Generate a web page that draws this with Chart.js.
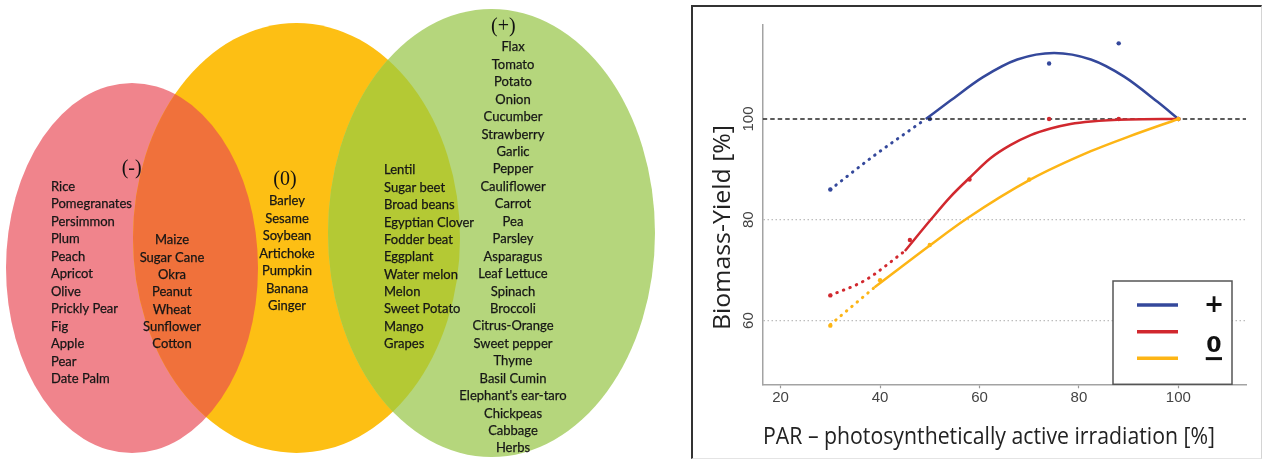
<!DOCTYPE html>
<html>
<head>
<meta charset="utf-8">
<title>Crops and shading</title>
<script src="https://cdn.jsdelivr.net/npm/chart.js@4.4.1/dist/chart.umd.min.js"></script>
<style>
  html, body { margin: 0; padding: 0; background: #fff; }
  body { width: 1264px; height: 460px; position: relative; overflow: hidden; }
  #venn-box { position: absolute; left: 0; top: 0; width: 690px; height: 460px; }
  #yield-box { position: absolute; left: 691px; top: 5px; width: 568px; height: 451px;
    border-left: 2px solid #333; border-top: 2px solid #333;
    border-right: 1px solid #d4d4d4; border-bottom: 1px solid #e4e4e4; }
</style>
</head>
<body>
<div id="venn-box"><canvas id="venn"></canvas></div>
<div id="yield-box"><canvas id="yield"></canvas></div>
<script>
// ---- Venn: crops by group ----
var groupHeads = ['(-)', '(0)', '(+)'];
var negativeOnly = ['Rice', 'Pomegranates', 'Persimmon', 'Plum', 'Peach', 'Apricot', 'Olive',
    'Prickly Pear', 'Fig', 'Apple', 'Pear', 'Date Palm'];
var negativeZero = ['Maize', 'Sugar Cane', 'Okra', 'Peanut', 'Wheat', 'Sunflower', 'Cotton'];
var zeroOnly = ['Barley', 'Sesame', 'Soybean', 'Artichoke', 'Pumpkin', 'Banana', 'Ginger'];
var zeroPositive = ['Lentil', 'Sugar beet', 'Broad beans', 'Egyptian Clover', 'Fodder beat',
    'Eggplant', 'Water melon', 'Melon', 'Sweet Potato', 'Mango', 'Grapes'];
var positiveOnly = ['Flax', 'Tomato', 'Potato', 'Onion', 'Cucumber', 'Strawberry', 'Garlic',
    'Pepper', 'Cauliflower', 'Carrot', 'Pea', 'Parsley', 'Asparagus', 'Leaf Lettuce', 'Spinach',
    'Broccoli', 'Citrus-Orange', 'Sweet pepper', 'Thyme', 'Basil Cumin', "Elephant's ear-taro",
    'Chickpeas', 'Cabbage', 'Herbs'];

// ---- yield chart ----
var parTicks = [20, 40, 60, 80, 100];
var yieldTicks = [60, 80, 100];
var legendLabels = ['+', '0', '\u2212'];

var plusObsPar = [30, 50, 74, 88, 100];
var plusObsYield = [86, 100, 111, 115, 100];
var plusFitPar = [49.2, 54.1, 60.7, 67.6, 75, 82.4, 89.1, 95.8, 100];
var plusFitYield = [100, 103.6, 108.3, 111.8, 113.1, 111.8, 108.4, 103.4, 100];
var plusExtPar = [30, 38.5, 49.2];
var plusExtYield = [86, 92.5, 100];

var zeroObsPar = [30, 46, 58, 74, 88, 100];
var zeroObsYield = [65, 76, 88, 100, 100, 100];
var zeroFitPar = [45, 50.1, 54.1, 58.2, 62.2, 66.2, 70.3, 74.3, 78.3, 82.4, 90, 100];
var zeroFitYield = [73.8, 79.9, 84.5, 88.5, 92.2, 94.8, 96.8, 98.1, 99, 99.5, 99.9, 100];
var zeroExtPar = [30, 37, 45];
var zeroExtYield = [65, 68, 73.8];

var minusObsPar = [30, 40, 50, 70, 100];
var minusObsYield = [59, 68, 75, 88, 100];
var minusFitPar = [38.9, 50, 57.4, 70.3, 82.4, 90, 100];
var minusFitYield = [66.6, 74.9, 80.2, 88, 93.6, 96.5, 100];
var minusExtPar = [30, 38.9];
var minusExtYield = [59.2, 66.6];

var parMin = 16.4, parMax = 113.6;
var yieldMin = 47.36, yieldMax = 118.64;
var refPar = [parMin, parMax];
var refYield = [100, 100];

var blue = '#34489b';
var red = '#d1282e';
var yellow = '#fdb515';

Chart.defaults.font.family = "'Open Sans', 'Noto Sans', sans-serif";
Chart.defaults.animation = false;

function toPoints(xs, ys) {
    return xs.map(function(x, i) { return {x: x, y: ys[i]}; });
}

// ellipses in page pixels of the left panel
var vennShapes = [
    {cx: 132, cy: 268, rx: 126, ry: 185, color: '#f0848c'},
    {cx: 296.5, cy: 238, rx: 163.5, ry: 215, color: '#fdbf14'},
    {cx: 491.5, cy: 233, rx: 163.5, ry: 224, color: '#b5d67c'}
];
var vennOverlaps = ['#f0713b', '#b4c934'];
var vennLists = [
    {items: negativeOnly, x: 51, y: 186.7, step: 17.5, align: 'left'},
    {items: negativeZero, x: 172, y: 240, step: 17.35, align: 'center'},
    {items: zeroOnly, x: 287, y: 201, step: 17.5, align: 'center'},
    {items: zeroPositive, x: 384, y: 170.3, step: 17.37, align: 'left'},
    {items: positiveOnly, x: 513, y: 47.3, step: 17.43, align: 'center'}
];
var vennHeadPos = [{x: 131.7, y: 168.3}, {x: 285, y: 180}, {x: 503.3, y: 26.7}];

var vennPlugin = {
    id: 'venn',
    afterDraw: function(chart) {
        var ctx = chart.ctx, sx = chart.scales.x, sy = chart.scales.y;
        function path(e) {
            var cx = sx.getPixelForValue(e.cx), cy = sy.getPixelForValue(e.cy);
            var rx = Math.abs(sx.getPixelForValue(e.cx + e.rx) - cx);
            var ry = Math.abs(sy.getPixelForValue(e.cy + e.ry) - cy);
            ctx.beginPath();
            ctx.ellipse(cx, cy, rx, ry, 0, 0, Math.PI * 2);
        }
        ctx.save();
        path(vennShapes[0]); ctx.fillStyle = vennShapes[0].color; ctx.fill();
        path(vennShapes[1]); ctx.fillStyle = vennShapes[1].color; ctx.fill();
        ctx.save();
        path(vennShapes[0]); ctx.clip();
        path(vennShapes[1]); ctx.fillStyle = vennOverlaps[0]; ctx.fill();
        ctx.restore();
        path(vennShapes[2]); ctx.fillStyle = vennShapes[2].color; ctx.fill();
        ctx.save();
        path(vennShapes[1]); ctx.clip();
        path(vennShapes[2]); ctx.fillStyle = vennOverlaps[1]; ctx.fill();
        ctx.restore();

        ctx.textBaseline = 'middle';
        ctx.fillStyle = '#161616';
        ctx.strokeStyle = '#161616';
        ctx.lineWidth = 0.25;
        ctx.font = "13px Lato, 'Open Sans', sans-serif";
        vennLists.forEach(function(g) {
            ctx.textAlign = g.align;
            g.items.forEach(function(name, i) {
                var px = sx.getPixelForValue(g.x), py = sy.getPixelForValue(g.y + i * g.step);
                ctx.fillText(name, px, py);
                ctx.strokeText(name, px, py);
            });
        });
        ctx.font = "20px 'Liberation Serif', 'DejaVu Serif', serif";
        ctx.textAlign = 'center';
        ctx.fillStyle = '#111';
        groupHeads.forEach(function(h, i) {
            ctx.fillText(h, sx.getPixelForValue(vennHeadPos[i].x), sy.getPixelForValue(vennHeadPos[i].y));
        });
        ctx.restore();
    }
};

var vennChart = new Chart(document.getElementById('venn'), {
    type: 'scatter',
    data: { datasets: [] },
    options: {
        responsive: true,
        maintainAspectRatio: false,
        layout: { padding: 0 },
        plugins: { legend: { display: false }, tooltip: { enabled: false } },
        scales: {
            x: { type: 'linear', min: 0, max: 690, display: false },
            y: { type: 'linear', min: 0, max: 460, reverse: true, display: false }
        }
    },
    plugins: [vennPlugin]
});

function fittedText(ctx, text, x, y, size, width, rotate) {
    ctx.save();
    ctx.font = size + "px 'Open Sans', 'Noto Sans', sans-serif";
    var w = ctx.measureText(text).width;
    ctx.translate(x, y);
    if (rotate) ctx.rotate(-Math.PI / 2);
    ctx.scale(width / w, 1);
    ctx.textAlign = 'center';
    ctx.textBaseline = 'middle';
    ctx.fillText(text, 0, 0);
    ctx.restore();
}

var yieldPlugin = {
    id: 'yieldDecor',
    afterDraw: function(chart) {
        var ctx = chart.ctx, sy = chart.scales.y, area = chart.chartArea;
        ctx.save();
        // rotated y tick labels
        ctx.fillStyle = '#444';
        ctx.font = "15px 'Liberation Sans', Arial, sans-serif";
        ctx.textAlign = 'center';
        ctx.textBaseline = 'middle';
        sy.ticks.forEach(function(t) {
            ctx.save();
            ctx.translate(area.left - 14, sy.getPixelForValue(t.value));
            ctx.rotate(-Math.PI / 2);
            ctx.fillText(String(t.value), 0, 0);
            ctx.restore();
        });
        // axis titles
        ctx.fillStyle = '#222';
        fittedText(ctx, 'Biomass-Yield [%]', area.left - 40, 220.5, 24, 205, true);
        fittedText(ctx, 'PAR \u2013 photosynthetically active irradiation [%]', 296, 429.7, 24, 452, false);

        // legend box
        var bw = 119, bh = 103.3;
        var bx = area.right - 14 - bw, by = area.bottom - bh;
        ctx.fillStyle = '#fff';
        ctx.fillRect(bx, by, bw, bh);
        ctx.strokeStyle = '#555';
        ctx.lineWidth = 1.5;
        ctx.strokeRect(bx, by, bw, bh);
        var rows = [24, 50.7, 77.3];
        var labelRows = [24.5, 65, 79];
        var labelSizes = [24, 22, 26];
        var cols = [blue, red, yellow];
        rows.forEach(function(r, i) {
            ctx.strokeStyle = cols[i];
            ctx.lineWidth = 3.5;
            ctx.beginPath();
            ctx.moveTo(bx + 24, by + r);
            ctx.lineTo(bx + 65, by + r);
            ctx.stroke();
            ctx.fillStyle = '#111';
            ctx.font = 'bold ' + labelSizes[i] + "px 'DejaVu Sans', sans-serif";
            ctx.textAlign = 'center';
            ctx.textBaseline = 'middle';
            ctx.fillText(legendLabels[i], bx + 101, by + labelRows[i]);
        });
        ctx.restore();
    }
};

function lineSet(xs, ys, color, dotted) {
    return {
        data: toPoints(xs, ys),
        showLine: true,
        borderColor: color,
        borderWidth: dotted ? 3 : 2.5,
        borderDash: dotted ? [0.5, 6.5] : [],
        borderCapStyle: dotted ? 'round' : 'butt',
        cubicInterpolationMode: 'monotone',
        pointRadius: 0,
        fill: false
    };
}

function pointSet(xs, ys, color) {
    return {
        data: toPoints(xs, ys),
        showLine: false,
        pointRadius: 2.2,
        pointBackgroundColor: color,
        pointBorderWidth: 0
    };
}

var refLine = {
    data: toPoints(refPar, refYield),
    showLine: true,
    borderColor: '#262626',
    borderWidth: 1.6,
    borderDash: [4.5, 3],
    pointRadius: 0
};

var yieldChart = new Chart(document.getElementById('yield'), {
    type: 'scatter',
    data: {
        datasets: [
            lineSet(minusExtPar, minusExtYield, yellow, true),
            lineSet(minusFitPar, minusFitYield, yellow, false),
            pointSet(minusObsPar, minusObsYield, yellow),
            lineSet(zeroExtPar, zeroExtYield, red, true),
            lineSet(zeroFitPar, zeroFitYield, red, false),
            pointSet(zeroObsPar, zeroObsYield, red),
            refLine,
            lineSet(plusExtPar, plusExtYield, blue, true),
            lineSet(plusFitPar, plusFitYield, blue, false),
            pointSet(plusObsPar, plusObsYield, blue)
        ]
    },
    options: {
        responsive: true,
        maintainAspectRatio: false,
        layout: { padding: { top: 18, right: 15, left: 0, bottom: 0 } },
        plugins: { legend: { display: false }, tooltip: { enabled: false } },
        scales: {
            x: {
                type: 'linear',
                min: parMin,
                max: parMax,
                afterBuildTicks: function(s) { s.ticks = parTicks.map(function(v) { return {value: v}; }); },
                afterFit: function(s) { s.height = 73.7; },
                grid: { drawOnChartArea: false, drawTicks: true, tickLength: 4, tickColor: '#999', tickWidth: 1.2 },
                border: { display: true, color: '#a3a3a3', width: 1.5 },
                ticks: { color: '#444', padding: 1, maxRotation: 0,
                    font: { size: 15, family: "'Liberation Sans', Arial, sans-serif" } }
            },
            y: {
                type: 'linear',
                min: yieldMin,
                max: yieldMax,
                afterBuildTicks: function(s) { s.ticks = yieldTicks.map(function(v) { return {value: v}; }); },
                afterFit: function(s) { s.width = 69.7; },
                grid: {
                    color: function(c) { return c.tick && c.tick.value === 100 ? 'rgba(0,0,0,0)' : '#bdbdbd'; },
                    lineWidth: 1.3,
                    drawTicks: false
                },
                border: { display: true, color: '#a3a3a3', width: 1.5, dash: [1.5, 2.5] },
                ticks: { display: false }
            }
        }
    },
    plugins: [yieldPlugin]
});
</script>
</body>
</html>
